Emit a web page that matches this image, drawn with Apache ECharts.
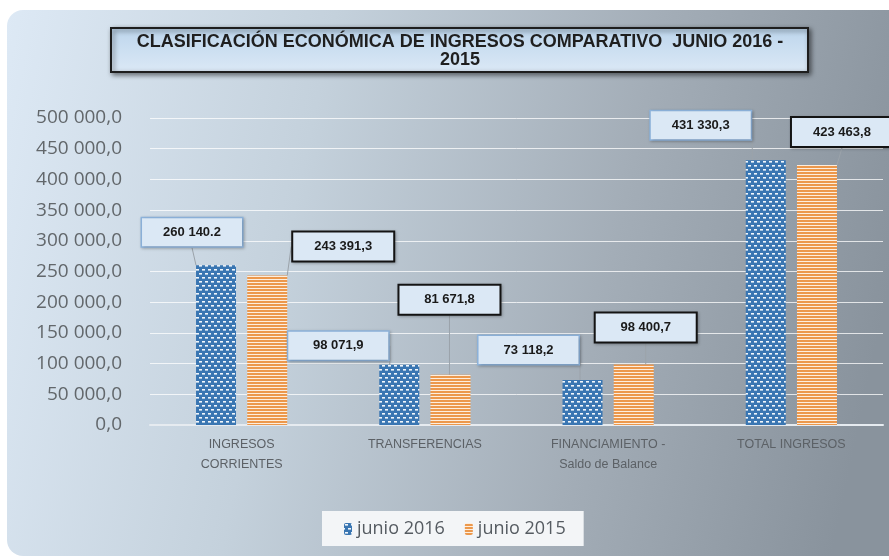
<!DOCTYPE html>
<html>
<head>
    <meta charset="UTF-8">
    <title>Clasificación económica de ingresos</title>
    <script src="https://cdn.jsdelivr.net/npm/echarts@6/dist/echarts.min.js"></script>
    <style>
        html, body { margin: 0; padding: 0; background: #fff; }
        #chart { width: 889px; height: 560px; }
    </style>
</head>
<body>
    <div id="chart"></div>
    <script>
        // datos
        var categorias = ['INGRESOS\nCORRIENTES', 'TRANSFERENCIAS', 'FINANCIAMIENTO -\nSaldo de Balance', 'TOTAL INGRESOS'];
        var junio2016 = [260140.2, 98071.9, 73118.2, 431330.3];
        var junio2015 = [243391.3, 81671.8, 98400.7, 423463.8];
        var etiquetas2016 = ['260 140.2', '98 071,9', '73 118,2', '431 330,3'];
        var etiquetas2015 = ['243 391,3', '81 671,8', '98 400,7', '423 463,8'];
        var nombres = ['junio 2016', 'junio 2015'];

        // desplazamiento de las etiquetas respecto a la barra
        var shift2016 = [[-24, -14], [-61, 0], [-54, -11], [-65, -16]];
        var shift2015 = [[76, -10], [-1, -56], [12, -18], [25, -14]];

        function patronPuntos() {
            var c = document.createElement('canvas');
            c.width = 6; c.height = 8;
            var g = c.getContext('2d');
            g.fillStyle = '#3a76b2';
            g.fillRect(0, 0, 6, 8);
            g.fillStyle = '#f2f7fc';
            g.fillRect(1, 1, 3, 1.6);
            g.fillRect(4, 5, 2, 1.6);
            g.fillRect(0, 5, 1, 1.6);
            return c;
        }

        function patronRayas() {
            var c = document.createElement('canvas');
            c.width = 4; c.height = 3;
            var g = c.getContext('2d');
            g.fillStyle = '#ec984c';
            g.fillRect(0, 0, 4, 3);
            g.fillStyle = '#fdeede';
            g.fillRect(0, 0, 4, 1);
            return c;
        }

        function formatoNumero(v) {
            var s = Math.round(v).toString().replace(/\B(?=(\d{3})+(?!\d))/g, ' ');
            return s + ',0';
        }

        var chart = echarts.init(document.getElementById('chart'));

        var etiquetaBase = {
            show: true,
            position: 'top',
            fontFamily: 'Liberation Sans',
            fontWeight: 'bold',
            fontSize: 13,
            lineHeight: 14,
            color: '#1a1a1a',
            backgroundColor: '#dbe8f5',
            padding: [7, 12],
            width: 76,
            align: 'center',
            shadowBlur: 3,
            shadowColor: 'rgba(0,0,0,0.25)',
            shadowOffsetX: 1,
            shadowOffsetY: 1
        };

        var option = {
            backgroundColor: '#ffffff',
            animation: false,
            graphic: [
                {
                    type: 'rect',
                    z: -100,
                    silent: true,
                    shape: { x: 7, y: 10, width: 900, height: 546, r: 16 },
                    style: {
                        fill: new echarts.graphic.LinearGradient(0, 0, 1, 0.35, [
                            { offset: 0, color: '#dde9f5' },
                            { offset: 0.35, color: '#c4d1dc' },
                            { offset: 0.7, color: '#a3adb7' },
                            { offset: 1, color: '#89939d' }
                        ])
                    }
                },
                {
                    type: 'group',
                    z: 50,
                    children: [
                        {
                            type: 'rect',
                            shape: { x: 111, y: 28, width: 697, height: 44 },
                            style: {
                                fill: new echarts.graphic.LinearGradient(0, 0, 0, 1, [
                                    { offset: 0, color: '#bcd5ec' },
                                    { offset: 1, color: '#dce9f6' }
                                ]),
                                stroke: '#1e1e1e',
                                lineWidth: 2,
                                shadowBlur: 5,
                                shadowOffsetX: 2,
                                shadowOffsetY: 2,
                                shadowColor: 'rgba(0,0,0,0.5)'
                            }
                        },
                        {
                            type: 'text',
                            style: {
                                x: 460,
                                y: 51,
                                text: 'CLASIFICACIÓN ECONÓMICA DE INGRESOS COMPARATIVO  JUNIO 2016 -\n2015',
                                align: 'center',
                                verticalAlign: 'middle',
                                font: 'bold 18px "Liberation Sans"',
                                lineHeight: 18,
                                fill: '#1f1f1f'
                            }
                        }
                    ]
                }
            ],
            legend: {
                left: 322,
                top: 511,
                padding: [9, 18, 8, 22],
                backgroundColor: '#f3f5f7',
                itemWidth: 8,
                itemHeight: 12,
                itemGap: 20,
                textStyle: { fontFamily: 'Open Sans', fontSize: 18, color: '#555b61' },
                data: nombres
            },
            grid: { left: 150, right: 6, top: 118, bottom: 135, containLabel: false },
            xAxis: {
                type: 'category',
                data: categorias,
                axisLine: { lineStyle: { color: '#e6ebf0', width: 2 } },
                axisTick: { show: false },
                axisLabel: {
                    fontFamily: 'Liberation Sans',
                    fontSize: 12.5,
                    lineHeight: 20,
                    color: '#5c6166',
                    margin: 10,
                    interval: 0
                }
            },
            yAxis: {
                type: 'value',
                min: 0,
                max: 500000,
                interval: 50000,
                axisLine: { show: false },
                axisTick: { show: false },
                splitLine: { lineStyle: { color: 'rgba(255,255,255,0.75)', width: 1 } },
                axisLabel: {
                    fontFamily: 'Open Sans',
                    fontSize: 19,
                    color: '#62676b',
                    margin: 28,
                    formatter: formatoNumero
                }
            },
            series: [
                {
                    name: nombres[0],
                    type: 'bar',
                    data: junio2016,
                    barWidth: 40,
                    barGap: '28%',
                    itemStyle: { color: { image: patronPuntos(), repeat: 'repeat' } },
                    label: Object.assign({}, etiquetaBase, {
                        borderColor: '#8db3dc',
                        borderWidth: 1.5,
                        formatter: function (p) { return etiquetas2016[p.dataIndex]; }
                    }),
                    labelLayout: function (p) {
                        var s = shift2016[p.dataIndex];
                        return { dx: s[0], dy: s[1] };
                    },
                    labelLine: { show: true, lineStyle: { color: '#9ba3aa', width: 1 } }
                },
                {
                    name: nombres[1],
                    type: 'bar',
                    data: junio2015,
                    barWidth: 40,
                    itemStyle: { color: { image: patronRayas(), repeat: 'repeat' } },
                    label: Object.assign({}, etiquetaBase, {
                        borderColor: '#141414',
                        borderWidth: 2,
                        formatter: function (p) { return etiquetas2015[p.dataIndex]; }
                    }),
                    labelLayout: function (p) {
                        var s = shift2015[p.dataIndex];
                        return { dx: s[0], dy: s[1] };
                    },
                    labelLine: { show: true, lineStyle: { color: '#9ba3aa', width: 1 } }
                }
            ]
        };

        chart.setOption(option);
    </script>
</body>
</html>
